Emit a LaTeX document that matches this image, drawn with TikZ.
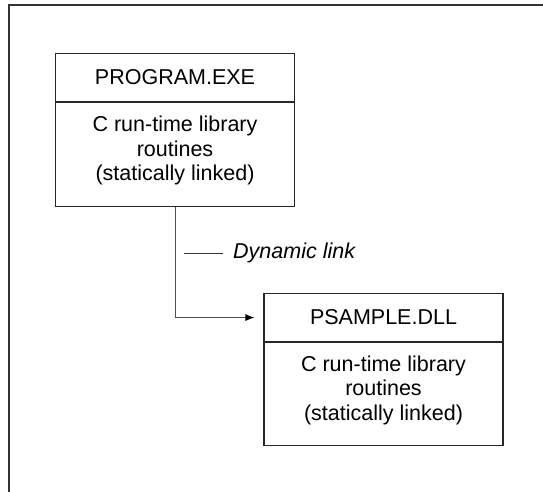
\documentclass[tikz,border=0pt]{standalone}
\usepackage{fontspec}
\setmainfont{Liberation Sans}
\usetikzlibrary{arrows.meta}
\begin{document}
\begin{tikzpicture}[x=1pt,y=-1pt,
  txt/.style={font=\fontsize{21.5}{24.5}\selectfont},
  headbox/.style={draw=black!85, line width=1.1pt, txt, minimum width=239pt,
    minimum height=48pt, inner sep=0pt, anchor=north},
  bodybox/.style={draw=black!85, line width=1.1pt, txt, minimum width=239pt,
    inner sep=0pt, align=center, anchor=north},
  frameline/.style={draw=black!80, line width=1.5pt},
  linkline/.style={draw=black!70, line width=0.9pt}]
  \useasboundingbox (0,0) rectangle (543,492);

  % open frame: top and left edges only
  \coordinate (frTR) at (543,5);
  \coordinate (frTL) at (9,5);
  \coordinate (frBL) at (9,492);
  \draw[frameline] (frTR) -- (frTL) -- (frBL);

  % executable with its statically linked run-time
  \node[headbox] (exeHead) at (175,53) {PROGRAM.EXE};
  \node[bodybox, minimum height=104pt] (exeBody) at (exeHead.south)
    {C run-time library\\routines\\(statically linked)\\[-12pt]};

  % dynamic-link library with its own run-time
  \node[headbox] (dllHead) at (383.5,293) {PSAMPLE.DLL};
  \node[bodybox, minimum height=103pt] (dllBody) at (dllHead.south)
    {C run-time library\\routines\\(statically linked)\\[-12pt]};

  % dynamic link from the program to the library
  \draw[linkline, -{Latex[length=9pt,width=7pt,fill=black,color=black]}]
    (exeBody.south) |- ([xshift=-9pt]dllHead.west);

  % callout for the link
  \coordinate (calloutA) at (184,253);
  \coordinate (calloutB) at (223,253);
  \draw[draw=black!80, line width=0.8pt] (calloutA) -- (calloutB);
  \node[txt, anchor=base west, inner sep=0pt] (linkLabel) at (233,258)
    {\itshape Dynamic link};
\end{tikzpicture}
\end{document}
